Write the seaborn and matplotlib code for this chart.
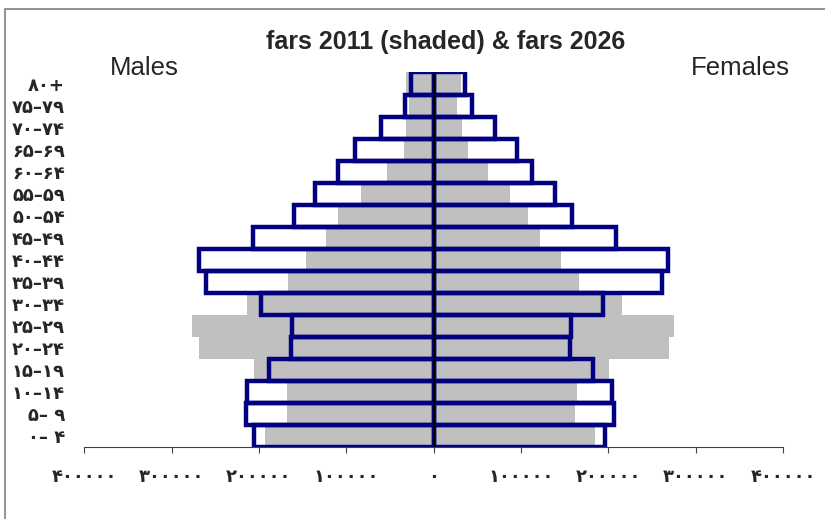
import matplotlib

matplotlib.use("Agg")
import matplotlib.pyplot as plt
import numpy as np
import pandas as pd
import seaborn as sns
from matplotlib.patches import Rectangle

# age groups, top to bottom (Persian digits as in the original)
age_groups = [
    "۸۰+", "۷۵–۷۹", "۷۰–۷۴", "۶۵–۶۹", "۶۰–۶۴", "۵۵–۵۹", "۵۰–۵۴", "۴۵–۴۹", "۴۰–۴۴",
    "۳۵–۳۹", "۳۰–۳۴", "۲۵–۲۹", "۲۰–۲۴", "۱۵–۱۹", "۱۰–۱۴", "۵– ۹", "۰– ۴",
]

# fars 2011 (shaded)
males_2011 = [31600, 28400, 31600, 33700, 53400, 82900, 109500, 122700, 146300,
              166900, 214000, 276300, 268500, 205700, 168100, 168100, 193500]
females_2011 = [31800, 26800, 33000, 39000, 62500, 87000, 108400, 121900, 146400,
                166200, 215300, 275500, 269400, 200900, 163600, 162000, 185300]

# fars 2026 (outlined)
males_2026 = [25600, 32600, 60300, 90300, 109500, 136100, 159500, 206500, 268500,
              261000, 197600, 161600, 163500, 188200, 214000, 214800, 205700]
females_2026 = [35900, 44000, 70600, 95200, 112800, 139400, 158700, 209200, 268100,
                261900, 193600, 157600, 156700, 182100, 204600, 206700, 196400]

x_ticks = [-400000, -300000, -200000, -100000, 0, 100000, 200000, 300000, 400000]
x_tick_labels = ["۴۰۰۰۰۰", "۳۰۰۰۰۰", "۲۰۰۰۰۰", "۱۰۰۰۰۰", "۰",
                 "۱۰۰۰۰۰", "۲۰۰۰۰۰", "۳۰۰۰۰۰", "۴۰۰۰۰۰"]

GRAY = "#c0c0c0"
NAVY = "#000080"


def main() -> None:
    sns.set_style("white")
    plt.rcParams["font.family"] = ["Liberation Sans", "DejaVu Sans"]

    df = pd.DataFrame({
        "age": age_groups,
        "m11": -np.array(males_2011),
        "f11": np.array(females_2011),
        "m26": -np.array(males_2026),
        "f26": np.array(females_2026),
    })

    fig = plt.figure(figsize=(8.25, 5.19), dpi=100)
    ax = fig.add_axes([84.2 / 825, 1 - 446.7 / 519, (783 - 84.2) / 825, (446.7 - 72.5) / 519])

    for col in ["m11", "f11"]:
        sns.barplot(data=df, x=col, y="age", orient="h", color=GRAY, width=1,
                    saturation=1, errorbar=None, linewidth=0, ax=ax)
    for col in ["m26", "f26"]:
        sns.barplot(data=df, x=col, y="age", orient="h", color=NAVY, fill=False, width=1,
                    saturation=1, errorbar=None, linewidth=3.2, ax=ax)

    ax.axvline(0, color="black", lw=1.6, zorder=5)

    ax.set_xlim(-400000, 400000)
    ax.set_ylim(len(age_groups) - 0.5, -0.5)
    ax.set_xticks(x_ticks)
    ax.set_xticklabels(x_tick_labels, fontfamily="DejaVu Sans", fontweight="bold", fontsize=13)
    ax.set_yticks(range(len(age_groups)))
    ax.set_yticklabels(age_groups, fontfamily="DejaVu Sans", fontweight="bold", fontsize=13)
    ax.set_xlabel("")
    ax.set_ylabel("")
    ax.tick_params(axis="x", direction="out", length=4.5, width=0.8, color="#404040", pad=11, bottom=True)
    ax.tick_params(axis="y", length=0, pad=14)

    for side in ["top", "right", "left"]:
        ax.spines[side].set_visible(False)
    ax.spines["bottom"].set_color("#404040")
    ax.spines["bottom"].set_linewidth(0.8)
    ax.set_facecolor("none")

    fig.text(446 / 825, 1 - 42 / 519, "fars 2011 (shaded) & fars 2026", ha="center", va="center",
             fontsize=18, fontweight="bold")
    fig.text(110 / 825, 1 - 68 / 519, "Males", ha="left", va="center", fontsize=18.5)
    fig.text(790 / 825, 1 - 68 / 519, "Females", ha="right", va="center", fontsize=18.5)

    # chart area border (only left and top edges fall inside the picture)
    fig.patches.append(Rectangle((5 / 825, -0.1), 1.2, 1 - 9 / 519 + 0.1, transform=fig.transFigure,
                                 fill=False, edgecolor="#808080", lw=1.2))

    fig.savefig("out.png", dpi=100)
    plt.close(fig)


if __name__ == "__main__":
    main()
